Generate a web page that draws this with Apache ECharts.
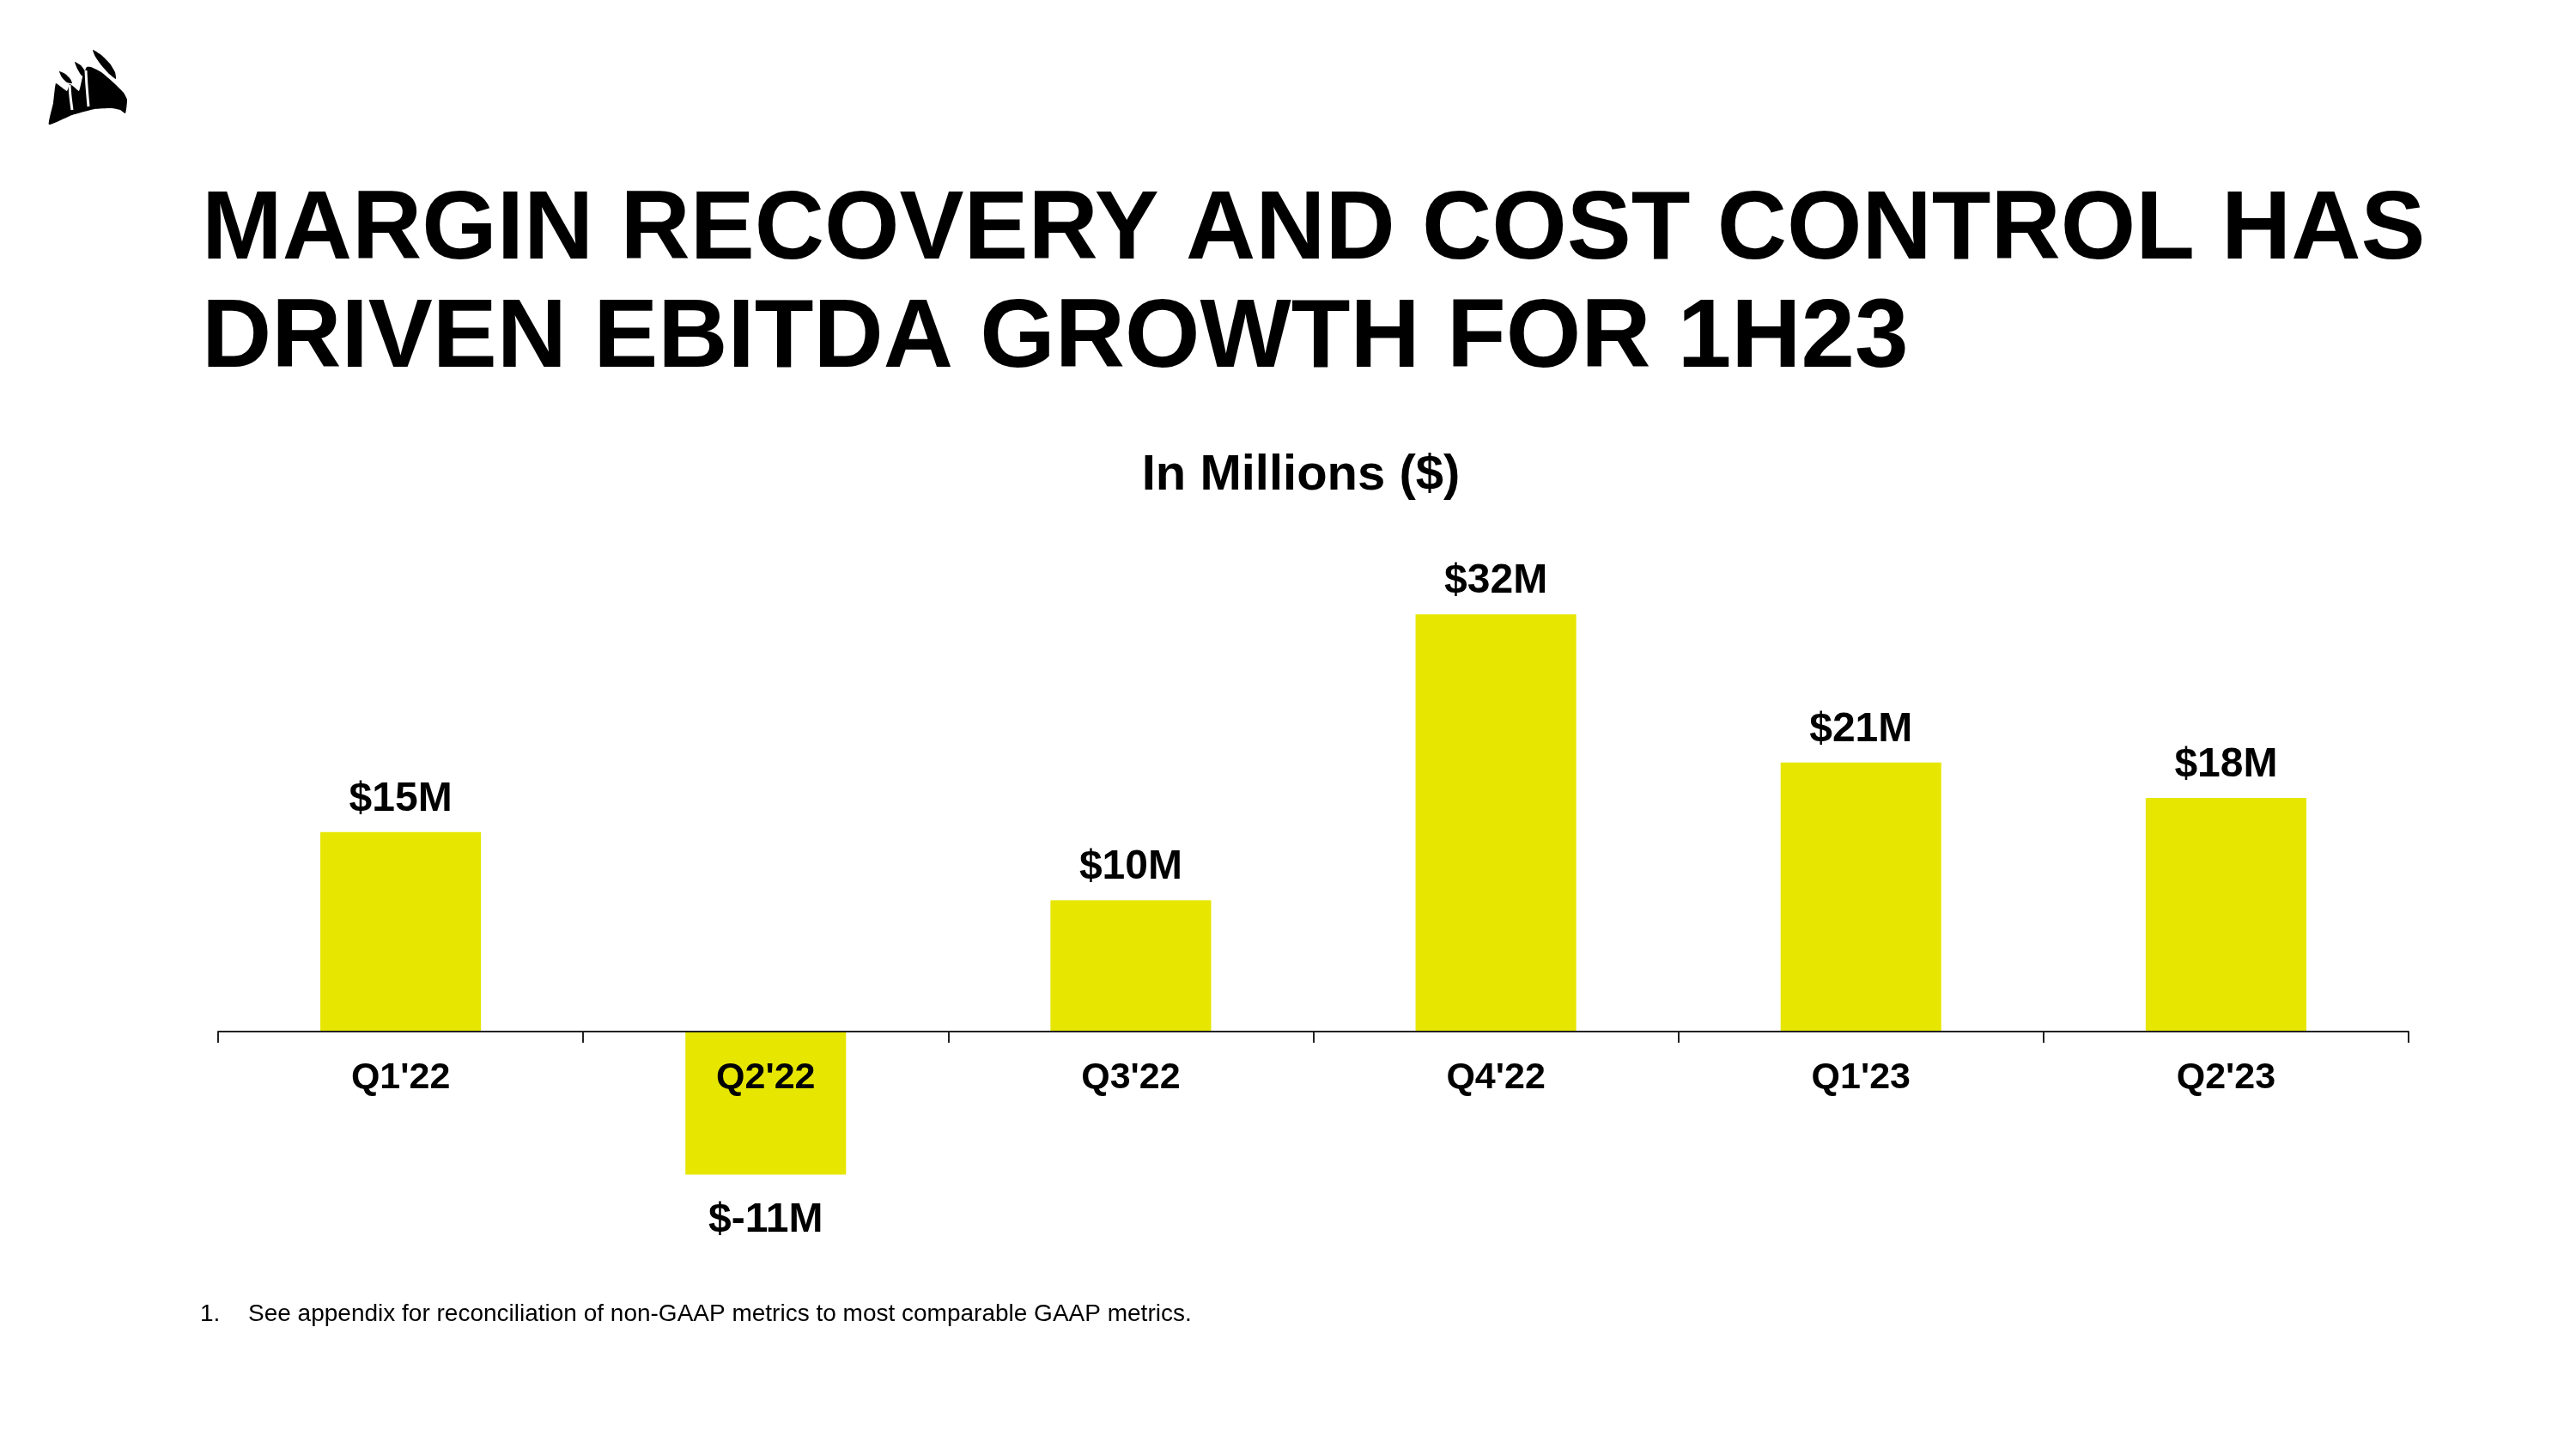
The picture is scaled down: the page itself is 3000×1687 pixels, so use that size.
<!DOCTYPE html>
<html>
<head>
<meta charset="utf-8">
<script src="https://cdn.jsdelivr.net/npm/echarts@6/dist/echarts.min.js"></script>
<style>
  html, body { margin: 0; padding: 0; background: #fff; }
  #main { width: 3000px; height: 1687px; }
</style>
</head>
<body>
<div id="main"></div>
<script>
const quarters = ["Q1'22", "Q2'22", "Q3'22", "Q4'22", "Q1'23", "Q2'23"]
const ebitda = [15.2, -10.9, 10.0, 31.8, 20.5, 17.8]

const titleLines = [
  "MARGIN RECOVERY AND COST CONTROL HAS",
  "DRIVEN EBITDA GROWTH FOR 1H23",
]
const subtitle = "In Millions ($)"
const footnote = "See appendix for reconciliation of non-GAAP metrics to most comparable GAAP metrics."

const font = "'Liberation Sans', Arial, sans-serif"
const yellow = "#E6E600"

const chartDom = document.getElementById("main")
const myChart = echarts.init(chartDom, null, { renderer: "canvas" })

// sails logo, hand traced roughly
const logoShapes = [
  [[57,145],[62,120],[65,97],[71,101],[78,106],[81,98],[86,101],[92,106],[96,90],[101,78],[106,78],[118,84],[132,96],[144,108],[148,116],[146,132],[140,128],[130,126],[110,127],[84,134]],
  [[108,58],[118,64],[128,74],[134,84],[135,92],[127,86],[118,76],[111,66]],
  [[69,83],[76,86],[82,92],[84,97],[78,96],[72,90]],
  [[87,72],[94,76],[100,84],[101,90],[95,88],[90,80]],
]
const logoGaps = [
  [[81,99],[82,112],[84,128]],
  [[100,82],[101,100],[103,124]],
]

const option = {
  backgroundColor: "#fff",
  animation: false,
  // zero sits on the grid bottom, the negative bar hangs below it
  grid: { left: 254, right: 195, top: 590, bottom: 486 },
  xAxis: {
    type: "category",
    data: quarters,
    z: 10,
    axisLine: { lineStyle: { color: "#222", width: 2 } },
    axisTick: { show: true, length: 13, lineStyle: { color: "#222", width: 2 } },
    axisLabel: {
      margin: 33,
      color: "#000",
      fontFamily: font,
      fontWeight: "bold",
      fontSize: 43,
    },
  },
  yAxis: {
    type: "value",
    min: 0,
    max: 40,
    show: false,
    splitLine: { show: false },
  },
  series: [
    {
      type: "bar",
      barWidth: "44%",
      clip: false,
      itemStyle: { color: yellow },
      label: {
        show: true,
        color: "#000",
        fontFamily: font,
        fontWeight: "bold",
        fontSize: 48,
        formatter: (p) => "$" + Math.round(p.value) + "M",
      },
      data: ebitda.map((v) => ({
        value: v,
        label: { position: v < 0 ? "bottom" : "top", distance: v < 0 ? 29 : 14 },
      })),
    },
  ],
  graphic: [
    ...titleLines.map((t, i) => ({
      type: "text",
      left: 235,
      top: 213 + i * 126,
      style: { text: t, fill: "#000", font: "bold 112.5px " + font },
    })),
    {
      type: "text",
      x: 1515,
      y: 554,
      style: {
        text: subtitle, fill: "#000", font: "bold 58px " + font,
        align: "center", verticalAlign: "middle",
      },
    },
    {
      type: "text",
      x: 233,
      y: 1530,
      style: { text: "1.", fill: "#000", font: "28px " + font, verticalAlign: "middle" },
    },
    {
      type: "text",
      x: 289,
      y: 1530,
      style: { text: footnote, fill: "#000", font: "28px " + font, verticalAlign: "middle" },
    },
    ...logoShapes.map((pts) => ({
      type: "polygon",
      shape: { points: pts, smooth: 0.15 },
      style: { fill: "#000" },
    })),
    ...logoGaps.map((pts) => ({
      type: "polyline",
      shape: { points: pts, smooth: 0.3 },
      style: { stroke: "#fff", lineWidth: 3, fill: null },
      z: 101,
    })),
  ],
}

option && myChart.setOption(option)
</script>
</body>
</html>
